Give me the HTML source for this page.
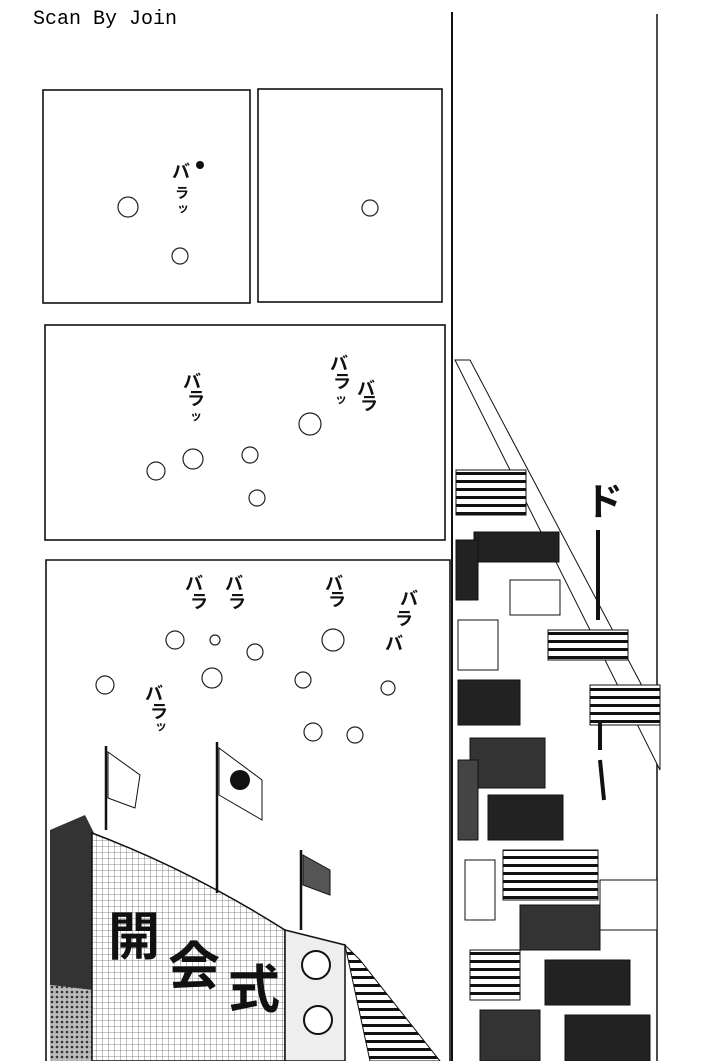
<!DOCTYPE html>
<html><head><meta charset="utf-8"><style>
body{margin:0;background:#fff;width:707px;height:1061px;overflow:hidden}
svg{display:block}
text{font-family:"Liberation Sans","Noto Sans CJK JP",sans-serif;font-weight:bold}
</style></head><body>
<svg width="707" height="1061" viewBox="0 0 707 1061">
<defs>
<pattern id="grid" width="6" height="6" patternUnits="userSpaceOnUse"><rect width="6" height="6" fill="#fff"/><path d="M0 0H6M0 0V6" stroke="#666" stroke-width="0.8"/></pattern>
<pattern id="crowd" width="5" height="5" patternUnits="userSpaceOnUse"><rect width="5" height="5" fill="#bbb"/><circle cx="2" cy="2" r="1.3" fill="#333"/></pattern>
<pattern id="stripe" width="8" height="8" patternUnits="userSpaceOnUse"><rect width="8" height="8" fill="#fff"/><rect width="8" height="3" fill="#111"/></pattern>
</defs>
<text x="33" y="24" style="font-family:'Liberation Mono',monospace;font-weight:normal" font-size="20">Scan By Join</text>
<g fill="none" stroke="#111" stroke-width="1.6">
<rect x="43" y="90" width="207" height="213"/>
<rect x="258" y="89" width="184" height="213"/>
<rect x="45" y="325" width="400" height="215"/>
<path d="M46 1061V560H450V1061"/>
</g>
<line x1="452" y1="12" x2="452" y2="1061" stroke="#111" stroke-width="2"/>
<line x1="657" y1="14" x2="657" y2="1061" stroke="#111" stroke-width="1.5"/>
<!-- panel texts -->
<g fill="#111" font-size="18">
<text x="172" y="178">バ</text><text x="175" y="198" font-size="14">ラ</text><text x="177" y="212" font-size="12">ッ</text>
<text x="183" y="388">バ</text><text x="187" y="405">ラ</text><text x="190" y="420" font-size="12">ッ</text>
<text x="330" y="370">バ</text><text x="333" y="388">ラ</text><text x="335" y="403" font-size="12">ッ</text>
<text x="357" y="395">バ</text><text x="360" y="410">ラ</text>
<text x="185" y="590">バ</text><text x="190" y="608">ラ</text><text x="225" y="590">バ</text><text x="228" y="608">ラ</text>
<text x="325" y="590">バ</text><text x="328" y="606">ラ</text>
<text x="400" y="605">バ</text><text x="395" y="625">ラ</text><text x="385" y="650">バ</text>
<text x="145" y="700">バ</text><text x="150" y="718">ラ</text><text x="155" y="730" font-size="12">ッ</text>
</g>
<g fill="none" stroke="#222" stroke-width="1.2">
<circle cx="128" cy="207" r="10"/><circle cx="180" cy="256" r="8"/><circle cx="370" cy="208" r="8"/>
<circle cx="310" cy="424" r="11"/><circle cx="193" cy="459" r="10"/><circle cx="156" cy="471" r="9"/><circle cx="250" cy="455" r="8"/><circle cx="257" cy="498" r="8"/>
<circle cx="175" cy="640" r="9"/><circle cx="215" cy="640" r="5"/><circle cx="255" cy="652" r="8"/><circle cx="333" cy="640" r="11"/><circle cx="212" cy="678" r="10"/><circle cx="105" cy="685" r="9"/><circle cx="303" cy="680" r="8"/><circle cx="388" cy="688" r="7"/><circle cx="313" cy="732" r="9"/><circle cx="355" cy="735" r="8"/>
</g>
<circle cx="200" cy="165" r="4" fill="#111"/>
<!-- scoreboard -->
<polygon points="50,830 85,815 95,835 92,990 50,985" fill="#333"/>
<path d="M50 985L92 990L280 1061H50Z" fill="url(#crowd)"/>
<path d="M92 833Q190 870 285 930V1061H92Z" fill="url(#grid)" stroke="#111" stroke-width="1.5"/>
<path d="M285 930L345 945V1061H285Z" fill="#eee" stroke="#111" stroke-width="1.5"/>
<circle cx="316" cy="965" r="14" fill="#fff" stroke="#111" stroke-width="2"/>
<circle cx="318" cy="1020" r="14" fill="#fff" stroke="#111" stroke-width="2"/>
<path d="M345 945L360 960L440 1061H370Z" fill="url(#stripe)" stroke="#111"/>
<g fill="#111" font-size="52" font-family="'Noto Sans CJK JP',sans-serif">
<text x="108" y="955" font-family="'Noto Sans CJK JP',sans-serif">開</text>
<text x="168" y="985" font-family="'Noto Sans CJK JP',sans-serif">会</text>
<text x="228" y="1008" font-family="'Noto Sans CJK JP',sans-serif">式</text>
</g>
<g stroke="#111" stroke-width="2.5"><line x1="106" y1="746" x2="106" y2="830"/><line x1="217" y1="742" x2="217" y2="893"/><line x1="301" y1="850" x2="301" y2="930"/></g>
<path d="M108 752L140 775L135 808L108 798Z" fill="#fff" stroke="#111"/>
<path d="M219 748L262 780L262 820L219 795Z" fill="#fff" stroke="#111"/>
<circle cx="240" cy="780" r="10" fill="#111"/>
<path d="M303 855L330 870L330 895L303 885Z" fill="#555" stroke="#111"/>
<!-- flags right -->
<g stroke="#111" stroke-width="1">
<path d="M455 360L470 360L660 720L660 770Z" fill="#fff"/>
<rect x="456" y="470" width="70" height="45" fill="url(#stripe)"/>
<rect x="474" y="532" width="85" height="30" fill="#222"/>
<rect x="510" y="580" width="50" height="35" fill="#fff"/>
<rect x="548" y="630" width="80" height="30" fill="url(#stripe)"/>
<rect x="590" y="685" width="70" height="40" fill="url(#stripe)"/>
<rect x="456" y="540" width="22" height="60" fill="#222"/>
<rect x="458" y="620" width="40" height="50" fill="#fff"/>
<rect x="458" y="680" width="62" height="45" fill="#222"/>
<rect x="470" y="738" width="75" height="50" fill="#333"/>
<rect x="488" y="795" width="75" height="45" fill="#222"/>
<rect x="503" y="850" width="95" height="50" fill="url(#stripe)"/>
<rect x="520" y="905" width="80" height="45" fill="#333"/>
<rect x="545" y="960" width="85" height="45" fill="#222"/>
<rect x="565" y="1015" width="85" height="46" fill="#222"/>
<rect x="458" y="760" width="20" height="80" fill="#444"/>
<rect x="465" y="860" width="30" height="60" fill="#fff"/>
<rect x="470" y="950" width="50" height="50" fill="url(#stripe)"/>
<rect x="480" y="1010" width="60" height="51" fill="#333"/>
<rect x="600" y="880" width="57" height="50" fill="#fff"/>
</g>
<g fill="#111" font-size="38" font-family="'Noto Sans CJK JP',sans-serif">
<text x="585" y="515" font-family="'Noto Sans CJK JP',sans-serif">ド</text>
</g>
<g stroke="#111" stroke-width="4"><line x1="598" y1="530" x2="598" y2="620"/><line x1="600" y1="720" x2="600" y2="750"/><line x1="600" y1="760" x2="604" y2="800"/></g>
</svg>
</body></html>
